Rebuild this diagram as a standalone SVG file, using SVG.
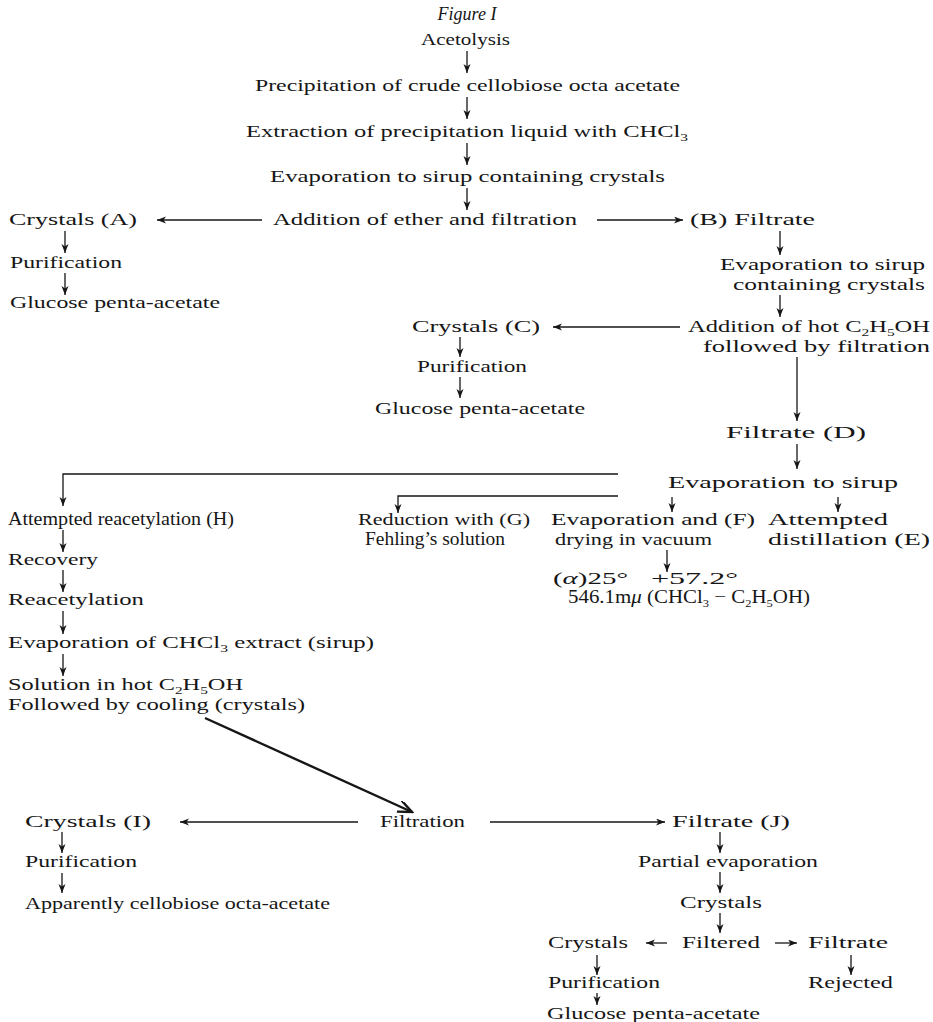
<svg xmlns="http://www.w3.org/2000/svg" width="933" height="1022" viewBox="0 0 933 1022">
<style>
text{fill:#161616}
.w{font-family:"Liberation Serif","Times New Roman",serif;font-size:17.5px}
.b{font-size:18.5px}
.i{font-family:"Liberation Serif","Times New Roman",serif;font-size:18px;font-style:italic}
.s{font-size:11px}
.ar{stroke:#161616;stroke-width:1.3;fill:none;marker-end:url(#ah)}
.big{stroke:#161616;stroke-width:2.4;fill:none;marker-end:url(#bh)}
</style>
<defs>
<marker id="ah" markerUnits="userSpaceOnUse" markerWidth="10" markerHeight="8" refX="9" refY="3.5" orient="auto">
<path d="M0,0 L9,3.5 L0,7 L2.5,3.5 z" fill="#161616"/>
</marker>
<marker id="bh" markerUnits="userSpaceOnUse" markerWidth="16" markerHeight="14" refX="14" refY="6" orient="auto">
<path d="M0,0 L14,6 L0,12" fill="none" stroke="#161616" stroke-width="2.4"/>
</marker>
</defs>
<rect width="933" height="1022" fill="#fff"/>

<g id="title"><text class="i" x="467" y="20" text-anchor="middle">Figure I</text></g>
<g id="acetolysis"><text class="w" x="421" y="45" textLength="89" lengthAdjust="spacingAndGlyphs">Acetolysis</text></g>
<g id="precipitation"><text class="w" x="255" y="91" textLength="425" lengthAdjust="spacingAndGlyphs">Precipitation of crude cellobiose octa acetate</text></g>
<g id="extraction"><text class="w" x="246" y="137" textLength="442" lengthAdjust="spacingAndGlyphs">Extraction of precipitation liquid with CHCl<tspan class="s" dy="4">3</tspan></text></g>
<g id="evap1"><text class="w" x="270" y="182" textLength="395" lengthAdjust="spacingAndGlyphs">Evaporation to sirup containing crystals</text></g>
<g id="addEther"><text class="w" x="273" y="225" textLength="304" lengthAdjust="spacingAndGlyphs">Addition of ether and filtration</text></g>
<g id="crystalsA"><text class="w" x="9" y="225" textLength="128" lengthAdjust="spacingAndGlyphs">Crystals (A)</text></g>
<g id="purifA"><text class="w" x="10" y="268" textLength="112" lengthAdjust="spacingAndGlyphs">Purification</text></g>
<g id="glucoseA"><text class="w" x="10" y="308" textLength="210" lengthAdjust="spacingAndGlyphs">Glucose penta-acetate</text></g>
<g id="filtrateB"><text class="w" x="690" y="225" textLength="125" lengthAdjust="spacingAndGlyphs">(B) Filtrate</text></g>
<g id="evapB">
<text class="w" x="720" y="270" textLength="205" lengthAdjust="spacingAndGlyphs">Evaporation to sirup</text>
<text class="w" x="733" y="290" textLength="192" lengthAdjust="spacingAndGlyphs">containing crystals</text>
</g>
<g id="addHot">
<text class="w" x="688" y="332" textLength="242" lengthAdjust="spacingAndGlyphs">Addition of hot C<tspan class="s" dy="4">2</tspan><tspan dy="-4">H</tspan><tspan class="s" dy="4">5</tspan><tspan dy="-4">OH</tspan></text>
<text class="w" x="703" y="352" textLength="227" lengthAdjust="spacingAndGlyphs">followed by filtration</text>
</g>
<g id="crystalsC"><text class="w" x="412" y="332" textLength="128" lengthAdjust="spacingAndGlyphs">Crystals (C)</text></g>
<g id="purifC"><text class="w" x="417" y="372" textLength="110" lengthAdjust="spacingAndGlyphs">Purification</text></g>
<g id="glucoseC"><text class="w" x="375" y="414" textLength="210" lengthAdjust="spacingAndGlyphs">Glucose penta-acetate</text></g>
<g id="filtrateD"><text class="w" x="726" y="438" textLength="140" lengthAdjust="spacingAndGlyphs">Filtrate (D)</text></g>
<g id="evapSirup"><text class="w" x="668" y="488" textLength="230" lengthAdjust="spacingAndGlyphs">Evaporation to sirup</text></g>
<g id="nodeH"><text class="w b" x="8" y="525" textLength="226" lengthAdjust="spacingAndGlyphs">Attempted reacetylation (H)</text></g>
<g id="nodeG">
<text class="w" x="358" y="525" textLength="172" lengthAdjust="spacingAndGlyphs">Reduction with (G)</text>
<text class="w b" x="365" y="545" textLength="140" lengthAdjust="spacingAndGlyphs">Fehling’s solution</text>
</g>
<g id="nodeF">
<text class="w" x="551" y="525" textLength="204" lengthAdjust="spacingAndGlyphs">Evaporation and (F)</text>
<text class="w" x="555" y="545" textLength="157" lengthAdjust="spacingAndGlyphs">drying in vacuum</text>
</g>
<g id="nodeE">
<text class="w" x="768" y="525" textLength="120" lengthAdjust="spacingAndGlyphs">Attempted</text>
<text class="w" x="768" y="545" textLength="162" lengthAdjust="spacingAndGlyphs">distillation (E)</text>
</g>
<g id="rotation">
<text class="w" x="553" y="584" textLength="75" lengthAdjust="spacingAndGlyphs">(<tspan font-style="italic">α</tspan>)25°</text>
<text class="w" x="651" y="584" textLength="87" lengthAdjust="spacingAndGlyphs">+57.2°</text>
<text class="w b" x="568" y="603" textLength="242" lengthAdjust="spacingAndGlyphs">546.1m<tspan font-style="italic">μ</tspan> (CHCl<tspan class="s" dy="4">3</tspan><tspan dy="-4"> − C</tspan><tspan class="s" dy="4">2</tspan><tspan dy="-4">H</tspan><tspan class="s" dy="4">5</tspan><tspan dy="-4">OH)</tspan></text>
</g>
<g id="recovery"><text class="w" x="8" y="565" textLength="90" lengthAdjust="spacingAndGlyphs">Recovery</text></g>
<g id="reacetylation"><text class="w" x="8" y="605" textLength="136" lengthAdjust="spacingAndGlyphs">Reacetylation</text></g>
<g id="evapCHCl3"><text class="w" x="8" y="648" textLength="366" lengthAdjust="spacingAndGlyphs">Evaporation of CHCl<tspan class="s" dy="4">3</tspan><tspan dy="-4"> extract (sirup)</tspan></text></g>
<g id="solution">
<text class="w" x="8" y="690" textLength="235" lengthAdjust="spacingAndGlyphs">Solution in hot C<tspan class="s" dy="4">2</tspan><tspan dy="-4">H</tspan><tspan class="s" dy="4">5</tspan><tspan dy="-4">OH</tspan></text>
<text class="w" x="8" y="710" textLength="297" lengthAdjust="spacingAndGlyphs">Followed by cooling (crystals)</text>
</g>
<g id="filtration"><text class="w" x="380" y="827" textLength="85" lengthAdjust="spacingAndGlyphs">Filtration</text></g>
<g id="crystalsI"><text class="w" x="25" y="827" textLength="126" lengthAdjust="spacingAndGlyphs">Crystals (I)</text></g>
<g id="purifI"><text class="w" x="25" y="867" textLength="112" lengthAdjust="spacingAndGlyphs">Purification</text></g>
<g id="cellobiose"><text class="w" x="25" y="909" textLength="305" lengthAdjust="spacingAndGlyphs">Apparently cellobiose octa-acetate</text></g>
<g id="filtrateJ"><text class="w" x="672" y="827" textLength="118" lengthAdjust="spacingAndGlyphs">Filtrate (J)</text></g>
<g id="partialEvap"><text class="w" x="638" y="867" textLength="180" lengthAdjust="spacingAndGlyphs">Partial evaporation</text></g>
<g id="crystalsJ"><text class="w" x="680" y="908" textLength="82" lengthAdjust="spacingAndGlyphs">Crystals</text></g>
<g id="filtered"><text class="w" x="682" y="948" textLength="78" lengthAdjust="spacingAndGlyphs">Filtered</text></g>
<g id="crystalsK"><text class="w" x="548" y="948" textLength="80" lengthAdjust="spacingAndGlyphs">Crystals</text></g>
<g id="filtrateK"><text class="w" x="808" y="948" textLength="80" lengthAdjust="spacingAndGlyphs">Filtrate</text></g>
<g id="purifK"><text class="w" x="548" y="988" textLength="112" lengthAdjust="spacingAndGlyphs">Purification</text></g>
<g id="rejected"><text class="w" x="808" y="988" textLength="85" lengthAdjust="spacingAndGlyphs">Rejected</text></g>
<g id="glucoseK"><text class="w" x="547" y="1019" textLength="213" lengthAdjust="spacingAndGlyphs">Glucose penta-acetate</text></g>

<g id="connectors">
<line class="ar" x1="467" y1="51" x2="467" y2="73"/>
<line class="ar" x1="467" y1="97" x2="467" y2="119"/>
<line class="ar" x1="467" y1="143" x2="467" y2="165"/>
<line class="ar" x1="467" y1="188" x2="467" y2="210"/>
<line class="ar" x1="262" y1="220" x2="157" y2="220"/>
<line class="ar" x1="597" y1="220" x2="683" y2="220"/>
<line class="ar" x1="65" y1="231" x2="65" y2="253"/>
<line class="ar" x1="65" y1="273" x2="65" y2="295"/>
<line class="ar" x1="780" y1="231" x2="780" y2="255"/>
<line class="ar" x1="780" y1="295" x2="780" y2="317"/>
<line class="ar" x1="680" y1="327" x2="553" y2="327"/>
<line class="ar" x1="460" y1="337" x2="460" y2="357"/>
<line class="ar" x1="460" y1="377" x2="460" y2="398"/>
<line class="ar" x1="797" y1="357" x2="797" y2="421"/>
<line class="ar" x1="797" y1="444" x2="797" y2="469"/>
<polyline class="ar" points="618,474 63,474 63,506"/>
<polyline class="ar" points="618,496 398,496 398,513"/>
<line class="ar" x1="672" y1="497" x2="672" y2="512"/>
<line class="ar" x1="838" y1="497" x2="838" y2="512"/>
<line class="ar" x1="667" y1="550" x2="667" y2="572"/>
<line class="ar" x1="63" y1="530" x2="63" y2="552"/>
<line class="ar" x1="63" y1="570" x2="63" y2="592"/>
<line class="ar" x1="63" y1="611" x2="63" y2="634"/>
<line class="ar" x1="63" y1="654" x2="63" y2="676"/>
<line class="big" x1="205" y1="718" x2="412" y2="812"/>
<line class="ar" x1="358" y1="822" x2="180" y2="822"/>
<line class="ar" x1="490" y1="822" x2="665" y2="822"/>
<line class="ar" x1="62" y1="832" x2="62" y2="853"/>
<line class="ar" x1="62" y1="873" x2="62" y2="893"/>
<line class="ar" x1="720" y1="832" x2="720" y2="853"/>
<line class="ar" x1="720" y1="872" x2="720" y2="893"/>
<line class="ar" x1="720" y1="913" x2="720" y2="933"/>
<line class="ar" x1="667" y1="943" x2="646" y2="943"/>
<line class="ar" x1="775" y1="943" x2="797" y2="943"/>
<line class="ar" x1="597" y1="955" x2="597" y2="975"/>
<line class="ar" x1="597" y1="993" x2="597" y2="1005"/>
<line class="ar" x1="851" y1="955" x2="851" y2="975"/>
</g>
</svg>
